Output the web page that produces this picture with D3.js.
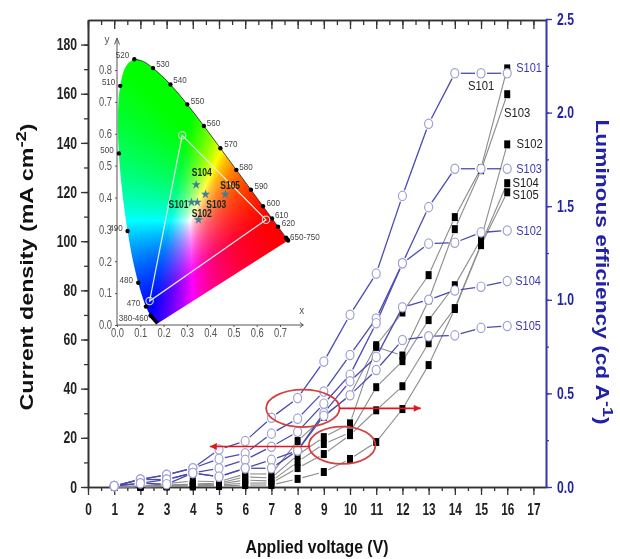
<!DOCTYPE html>
<html>
<head>
<meta charset="utf-8">
<script src="https://cdn.jsdelivr.net/npm/d3@7"></script>
<style>
  html, body { margin: 0; padding: 0; background: #fff; }
  #app { position: relative; width: 620px; height: 559px; overflow: hidden; }
  canvas { position: absolute; left: 0; top: 0; filter: blur(0.7px); }
  svg { position: absolute; left: 0; top: 0; filter: blur(0.35px); }
  text { font-family: "Liberation Sans", Arial, sans-serif; }
</style>
</head>
<body>
<div id="app"></div>
<script>
const voltage = [1, 2, 3, 4, 5, 6, 7, 8, 9, 10, 11, 12, 13, 14, 15, 16];
const seriesNames = ['S101', 'S103', 'S102', 'S104', 'S105'];

// current density, mA cm-2
const currentS101 = [0.2, 0.4, 1.4, 2.4, 2.2, 5.3, 5.3, 18.7, 28.5, 37.4, 57.7, 71, 86.2, 109.8, 129.7, 170.3];
const currentS103 = [0.1, 0.3, 0.8, 1.2, 1.6, 4.1, 3.7, 13, 20.3, 25.9, 57, 53.5, 76, 104.9, 128.9, 159.8];
const currentS102 = [0.1, 0.2, 0.6, 0.8, 1.2, 2.8, 2.4, 10.2, 17.5, 22.2, 40.6, 51.2, 67.9, 82.1, 100.8, 139.4];
const currentS104 = [0, 0.1, 0.4, 0.4, 0.8, 1.6, 1.6, 7.7, 13.4, 21.1, 31.2, 41, 58.5, 72.8, 98.8, 123.6];
const currentS105 = [0, 0, 0.2, 0.2, 0.4, 0.8, 0.8, 3.3, 6.1, 11.4, 18.3, 31.7, 49.6, 72.4, 98.4, 119.9];

// luminous efficiency, cd A-1
const effS101 = [0.005, 0.04, 0.065, 0.1, 0.2, 0.245, 0.37, 0.475, 0.67, 0.92, 1.14, 1.555, 1.94, 2.21, 2.21, 2.21];
const effS103 = [0.005, 0.04, 0.065, 0.1, 0.15, 0.18, 0.285, 0.365, 0.51, 0.705, 0.9, 1.195, 1.495, 1.7, 1.7, 1.7];
const effS102 = [0.005, 0.04, 0.04, 0.075, 0.1, 0.145, 0.215, 0.295, 0.445, 0.6, 0.875, 1.195, 1.3, 1.305, 1.36, 1.37];
const effS104 = [0.005, 0.02, 0.04, 0.075, 0.055, 0.1, 0.145, 0.195, 0.395, 0.565, 0.695, 0.96, 1, 1.05, 1.07, 1.1];
const effS105 = [0.005, 0.02, 0.015, 0.075, 0.055, 0.1, 0.1, 0.195, 0.38, 0.49, 0.625, 0.785, 0.805, 0.81, 0.85, 0.86];

const currentSeries = [currentS101, currentS103, currentS102, currentS104, currentS105];
const effSeries = [effS101, effS103, effS102, effS104, effS105];

// CIE 1931 spectral locus (nm, x, y)
const locusNm = [380, 460, 465, 470, 475, 480, 485, 490, 495, 500, 505, 510, 515, 520, 525, 530, 540, 550, 560, 570, 580, 590, 600, 610, 620, 650, 700];
const locusX = [0.1741, 0.144, 0.1355, 0.1241, 0.1096, 0.0913, 0.0687, 0.0454, 0.0235, 0.0082, 0.0039, 0.0139, 0.0389, 0.0743, 0.1142, 0.1547, 0.2296, 0.3016, 0.3731, 0.4441, 0.5125, 0.5752, 0.627, 0.6658, 0.6915, 0.7260, 0.7347];
const locusY = [0.005, 0.0297, 0.0399, 0.0578, 0.0868, 0.1327, 0.2007, 0.295, 0.4127, 0.5384, 0.6548, 0.7502, 0.812, 0.8338, 0.8262, 0.8059, 0.7543, 0.6923, 0.6245, 0.5547, 0.4866, 0.4242, 0.3725, 0.334, 0.3083, 0.274, 0.2653];
const locusDots = [460, 470, 480, 490, 500, 510, 520, 530, 540, 550, 560, 570, 580, 590, 600, 610, 620, 650, 700];

const gamutX = [0.28, 0.64, 0.14];
const gamutY = [0.595, 0.33, 0.075];

const starX = [0.34, 0.465, 0.38, 0.32, 0.345, 0.35];
const starY = [0.44, 0.41, 0.41, 0.385, 0.385, 0.33];

const nmLabels = ['520', '530', '540', '550', '560', '570', '580', '590', '600', '610', '620', '650-750', '510', '500', '490', '480', '470', '380-460'];
const nmLabelX = [0.024, 0.197, 0.271, 0.346, 0.414, 0.489, 0.554, 0.619, 0.671, 0.707, 0.736, 0.807, -0.036, -0.043, -0.004, 0.04, 0.071, 0.071];
const nmLabelY = [0.848, 0.818, 0.768, 0.702, 0.635, 0.567, 0.496, 0.436, 0.383, 0.345, 0.319, 0.275, 0.763, 0.549, 0.303, 0.141, 0.068, 0.021];

const width = 620;
const height = 559;
const app = d3.select('#app');
const canvas = app.append('canvas').attr('width', width).attr('height', height);
const svg = app.append('svg').attr('width', width).attr('height', height);

const x = d3.scaleLinear().domain([0, 17.48]).range([88, 546]);
const yL = d3.scaleLinear().domain([0, 190]).range([487, 20]);
const yR = d3.scaleLinear().domain([0, 2.5]).range([487, 19]);
const ix = d3.scaleLinear().domain([0, 0.7]).range([117, 280]);
const iy = d3.scaleLinear().domain([0, 0.8]).range([325, 70]);

const darkAxis = '#333';
const blueAxis = '#3535b5';
const blueText = '#2222a8';

// no narrow face is installed, so squeeze the glyphs instead
function squeeze(sel, factor) {
    sel.each(function () {
        const len = this.getComputedTextLength();
        d3.select(this).attr('textLength', len * factor).attr('lengthAdjust', 'spacingAndGlyphs');
    });
}

// ---- gamut fill, painted pixel by pixel from the xy scales
function xyToRgb(cx, cy) {
    const X = cx / cy, Z = (1 - cx - cy) / cy;
    let r = 3.2406 * X - 1.5372 - 0.4986 * Z;
    let g = -0.9689 * X + 1.8758 + 0.0415 * Z;
    let b = 0.0557 * X - 0.204 + 1.057 * Z;
    r = Math.max(r, 0); g = Math.max(g, 0); b = Math.max(b, 0);
    const m = Math.max(r, g, b);
    return [r, g, b].map(v => Math.round(255 * Math.pow(v / m, 1.0)));
}
const ctx = canvas.node().getContext('2d');
const off = document.createElement('canvas');
off.width = width; off.height = height;
const offCtx = off.getContext('2d');
const img = offCtx.createImageData(width, height);
for (let py = 30; py < 335; py++) {
    for (let px = 110; px < 300; px++) {
        const cy = iy.invert(py), cx = ix.invert(px);
        if (cy <= 0.001) continue;
        const c = xyToRgb(cx, cy), i = (py * width + px) * 4;
        img.data[i] = c[0]; img.data[i + 1] = c[1]; img.data[i + 2] = c[2]; img.data[i + 3] = 255;
    }
}
offCtx.putImageData(img, 0, 0);
const locusLine = d3.line().x(d => ix(d[0])).y(d => iy(d[1])).curve(d3.curveCatmullRom);
const locusPts = locusNm.map((n, i) => [locusX[i], locusY[i]]);
ctx.save();
ctx.beginPath();
locusLine.context(ctx)(locusPts);
ctx.closePath();
ctx.clip();
ctx.drawImage(off, 0, 0);
ctx.restore();
locusLine.context(null);

// ---- main axes
function styleAxis(g, color, width) {
    g.selectAll('path').attr('stroke', color).attr('stroke-width', width);
    g.selectAll('line').attr('stroke', color).attr('stroke-width', 1.3);
}
const halves = d3.range(0, 17.5, 0.5);
const xMinor = svg.append('g').attr('transform', `translate(0,${yL(0)})`)
    .call(d3.axisBottom(x).tickValues(halves).tickSize(4).tickFormat('').tickSizeOuter(0));
styleAxis(xMinor, darkAxis, 1.6);
const xMajor = svg.append('g').attr('transform', `translate(0,${yL(0)})`)
    .call(d3.axisBottom(x).tickValues(d3.range(0, 18)).tickSize(8).tickPadding(9).tickSizeOuter(0));
styleAxis(xMajor, darkAxis, 1.6);
xMajor.selectAll('text').attr('font-size', 16).attr('font-weight', 'bold').attr('fill', '#222').call(squeeze, 0.74);

const topMinor = svg.append('g').attr('transform', `translate(0,${yL.range()[1]})`)
    .call(d3.axisBottom(x).tickValues(halves).tickSize(5).tickFormat('').tickSizeOuter(0));
styleAxis(topMinor, darkAxis, 1.6);
const topMajor = svg.append('g').attr('transform', `translate(0,${yL.range()[1]})`)
    .call(d3.axisBottom(x).tickValues(d3.range(0, 18)).tickSize(9).tickFormat('').tickSizeOuter(0));
styleAxis(topMajor, darkAxis, 1.6);

const yMinor = svg.append('g').attr('transform', `translate(${x(0)},0)`)
    .call(d3.axisLeft(yL).tickValues(d3.range(0, 190, 10)).tickSize(4).tickFormat('').tickSizeOuter(0));
styleAxis(yMinor, darkAxis, 1.6);
const yMajor = svg.append('g').attr('transform', `translate(${x(0)},0)`)
    .call(d3.axisLeft(yL).tickValues(d3.range(0, 200, 20)).tickSize(7).tickPadding(4).tickSizeOuter(0));
styleAxis(yMajor, darkAxis, 1.6);
yMajor.selectAll('text').attr('font-size', 16).attr('font-weight', 'bold').attr('fill', '#222').call(squeeze, 0.76);

const rMinor = svg.append('g').attr('transform', `translate(${x(17.48)},0)`)
    .call(d3.axisRight(yR).tickValues(d3.range(0, 2.6, 0.25)).tickSize(3).tickFormat('').tickSizeOuter(0));
styleAxis(rMinor, blueAxis, 1.6);
const rMajor = svg.append('g').attr('transform', `translate(${x(17.48)},0)`)
    .call(d3.axisRight(yR).tickValues(d3.range(0, 2.6, 0.5)).tickSize(6).tickPadding(5).tickFormat(d3.format('.1f')).tickSizeOuter(0));
styleAxis(rMajor, blueAxis, 1.6);
rMajor.selectAll('text').attr('font-size', 16).attr('font-weight', 'bold').attr('fill', blueText).call(squeeze, 0.76);

// ---- axis titles
svg.append('text').attr('x', 317).attr('y', 553)
    .attr('text-anchor', 'middle').attr('font-size', 19).attr('font-weight', 'bold').attr('fill', '#111')
    .text('Applied voltage (V)')
    .call(squeeze, 0.83);

const leftTitle = svg.append('text').attr('transform', 'translate(33,267) rotate(-90)')
    .attr('text-anchor', 'middle').attr('font-size', 19).attr('font-weight', 'bold').attr('fill', '#111')
    .attr('textLength', 287).attr('lengthAdjust', 'spacingAndGlyphs');
leftTitle.append('tspan').text('Current density (mA cm');
leftTitle.append('tspan').attr('dy', -7).attr('font-size', 15).text('-2');
leftTitle.append('tspan').attr('dy', 7).text(')');

const rightTitle = svg.append('text').attr('transform', 'translate(596,272) rotate(90)')
    .attr('text-anchor', 'middle').attr('font-size', 19).attr('font-weight', 'bold').attr('fill', blueText)
    .attr('textLength', 305).attr('lengthAdjust', 'spacingAndGlyphs');
rightTitle.append('tspan').text('Luminous efficiency (cd A');
rightTitle.append('tspan').attr('dy', -7).attr('font-size', 15).text('-1');
rightTitle.append('tspan').attr('dy', 7).text(')');

// ---- connecting lines stop short of the symbols, the way Origin draws them
function gappedSegments(values, yScale, gap) {
    const pts = voltage.map((v, i) => [x(v), yScale(values[i])]);
    return d3.pairs(pts).map(([a, b]) => {
        const dx = b[0] - a[0], dy = b[1] - a[1], len = Math.hypot(dx, dy);
        const t = Math.min(gap / len, 0.5);
        return [a[0] + dx * t, a[1] + dy * t, b[0] - dx * t, b[1] - dy * t];
    });
}

const currentG = svg.append('g');
currentSeries.forEach(values => {
    currentG.selectAll(null).data(gappedSegments(values, yL, 5)).join('line')
        .attr('x1', d => d[0]).attr('y1', d => d[1]).attr('x2', d => d[2]).attr('y2', d => d[3])
        .attr('stroke', '#8c8c8c').attr('stroke-width', 1.1);
});
currentSeries.forEach(values => {
    currentG.selectAll(null).data(values.map((v, i) => [voltage[i], v])).join('rect')
        .attr('x', d => x(d[0]) - 3).attr('y', d => yL(d[1]) - 4)
        .attr('width', 6).attr('height', 8).attr('fill', '#000');
});

const effG = svg.append('g');
effSeries.forEach(values => {
    effG.selectAll(null).data(gappedSegments(values, yR, 6)).join('line')
        .attr('x1', d => d[0]).attr('y1', d => d[1]).attr('x2', d => d[2]).attr('y2', d => d[3])
        .attr('stroke', '#4a4ab2').attr('stroke-width', 1.3);
});
effSeries.forEach(values => {
    effG.selectAll(null).data(values.map((v, i) => [voltage[i], v])).join('ellipse')
        .attr('cx', d => x(d[0])).attr('cy', d => yR(d[1]))
        .attr('rx', 4).attr('ry', 4.7)
        .attr('fill', '#fff').attr('stroke', '#a0a0d4').attr('stroke-width', 1.2);
});

// ---- series labels at the ends of the curves
const blackLabelV = [15.0, 15.88, 16.35, 16.2, 16.2];
const blackLabelC = [163, 152, 139.5, 123.5, 119];
const blackAnchor = ['middle', 'start', 'start', 'start', 'start'];
svg.append('g').selectAll('text').data(seriesNames).join('text')
    .attr('x', (d, i) => x(blackLabelV[i]))
    .attr('y', (d, i) => yL(blackLabelC[i]) + 4)
    .attr('text-anchor', (d, i) => blackAnchor[i])
    .attr('font-size', 12.5).attr('fill', '#222')
    .text(d => d)
    .call(squeeze, 0.9);
svg.append('g').selectAll('text').data(seriesNames).join('text')
    .attr('x', (d, i) => x(16) + (i > 2 ? 8 : 9))
    .attr('y', (d, i) => yR(effSeries[i][15]) + (i === 0 ? -1 : 4))
    .attr('font-size', 12.5).attr('fill', '#3a3ab0')
    .text(d => d)
    .call(squeeze, 0.88);

// ---- red callouts
const ellipseV = [8.2, 9.7];
const ellipseC = [32, 17];
const ellipseRV = [1.4, 1.27];
const ellipseRC = [7.6, 7.6];
svg.append('g').selectAll('ellipse').data(ellipseV).join('ellipse')
    .attr('cx', d => x(d)).attr('cy', (d, i) => yL(ellipseC[i]))
    .attr('rx', (d, i) => x(ellipseRV[i]) - x(0)).attr('ry', (d, i) => yL(0) - yL(ellipseRC[i]))
    .attr('fill', 'none').attr('stroke', '#d2403f').attr('stroke-width', 1.8);

const arrowFrom = [9.6, 8.47];
const arrowTo = [12.7, 4.65];
const arrowC = [32, 16.5];
svg.append('defs').append('marker').attr('id', 'head').attr('viewBox', '0 0 10 10')
    .attr('refX', 10).attr('refY', 5).attr('markerUnits', 'userSpaceOnUse')
    .attr('markerWidth', 10).attr('markerHeight', 7).attr('orient', 'auto')
    .append('path').attr('d', 'M0,0L10,5L0,10Z').attr('fill', '#e8141c');
svg.append('g').selectAll('line').data(arrowFrom).join('line')
    .attr('x1', d => x(d)).attr('x2', (d, i) => x(arrowTo[i]))
    .attr('y1', (d, i) => yL(arrowC[i])).attr('y2', (d, i) => yL(arrowC[i]))
    .attr('stroke', '#e8141c').attr('stroke-width', 1.6).attr('marker-end', 'url(#head)');

// ---- inset chromaticity diagram
const inset = svg.append('g');
const inkGrey = '#555';
// only the upper right edge shows a dark outline
inset.append('path')
    .attr('d', d3.line().x(d => ix(d[0])).y(d => iy(d[1])).curve(d3.curveCatmullRom)(locusPts.slice(13)))
    .attr('fill', 'none').attr('stroke', '#1a2a1a').attr('stroke-width', 0.8);

inset.append('line').attr('x1', ix(0)).attr('x2', ix(0.8)).attr('y1', iy(0)).attr('y2', iy(0))
    .attr('stroke', inkGrey).attr('stroke-width', 1);
inset.append('line').attr('x1', ix(0)).attr('x2', ix(0)).attr('y1', iy(0)).attr('y2', iy(0.9))
    .attr('stroke', inkGrey).attr('stroke-width', 1);
inset.append('path').attr('d', d3.line()([[ix(0) - 2.5, iy(0.88)], [ix(0), iy(0.9)], [ix(0) + 2.5, iy(0.88)]]))
    .attr('fill', 'none').attr('stroke', inkGrey);
inset.append('path').attr('d', d3.line()([[ix(0.785), iy(0) - 2.5], [ix(0.8), iy(0)], [ix(0.785), iy(0) + 2.5]]))
    .attr('fill', 'none').attr('stroke', inkGrey);

const insetXAxis = inset.append('g').attr('transform', `translate(0,${iy(0)})`)
    .call(d3.axisBottom(ix).tickValues(d3.range(0, 0.75, 0.1)).tickSize(2).tickPadding(1).tickFormat(d3.format('.1f')));
insetXAxis.select('.domain').remove();
insetXAxis.selectAll('line').attr('stroke', inkGrey);
insetXAxis.selectAll('text').attr('font-size', 12).attr('fill', inkGrey).call(squeeze, 0.78);

const insetYAxis = inset.append('g').attr('transform', `translate(${ix(0)},0)`)
    .call(d3.axisLeft(iy).tickValues(d3.range(0, 0.85, 0.1)).tickSize(2).tickPadding(3).tickFormat(d3.format('.1f')));
insetYAxis.select('.domain').remove();
insetYAxis.selectAll('line').attr('stroke', inkGrey);
insetYAxis.selectAll('text').attr('font-size', 12).attr('fill', inkGrey).call(squeeze, 0.78);

inset.append('text').attr('x', ix(-0.043)).attr('y', iy(0.895)).attr('dy', '0.32em').attr('text-anchor', 'middle')
    .attr('font-size', 10).attr('fill', inkGrey).text('y');
inset.append('text').attr('x', ix(0.793)).attr('y', iy(0.045)).attr('dy', '0.32em').attr('text-anchor', 'middle')
    .attr('font-size', 10).attr('fill', inkGrey).text('x');

inset.selectAll('circle.nm').data(locusDots).join('circle').attr('class', 'nm')
    .attr('cx', d => ix(locusX[locusNm.indexOf(d)])).attr('cy', d => iy(locusY[locusNm.indexOf(d)]))
    .attr('r', 2.2).attr('fill', '#000');
inset.append('path')
    .attr('d', d3.line().x(d => ix(d[0])).y(d => iy(d[1]))(locusPts.slice(25)))
    .attr('stroke', '#000').attr('stroke-width', 4);
inset.append('path')
    .attr('d', d3.line().x(d => ix(d[0])).y(d => iy(d[1]))(locusPts.slice(0, 2)))
    .attr('stroke', '#000').attr('stroke-width', 3.5);

inset.selectAll('text.nm').data(nmLabels).join('text').attr('class', 'nm')
    .attr('x', (d, i) => ix(nmLabelX[i])).attr('y', (d, i) => iy(nmLabelY[i]))
    .attr('dy', '0.32em').attr('text-anchor', 'middle')
    .attr('font-size', 9.5).attr('fill', '#444').text(d => d)
    .call(squeeze, 0.85);

inset.append('path')
    .attr('d', d3.line().x((d, i) => ix(gamutX[i])).y((d, i) => iy(gamutY[i])).curve(d3.curveLinearClosed)(gamutX))
    .attr('fill', 'none').attr('stroke', '#e4efe4').attr('stroke-width', 1.2);
inset.selectAll('circle.gamut').data(gamutX).join('circle').attr('class', 'gamut')
    .attr('cx', d => ix(d)).attr('cy', (d, i) => iy(gamutY[i]))
    .attr('r', 3.7).attr('fill', 'none').attr('stroke', '#d8dcd0').attr('stroke-width', 1.1);

inset.selectAll('path.star').data(starX).join('path').attr('class', 'star')
    .attr('transform', (d, i) => `translate(${ix(d)},${iy(starY[i])})`)
    .attr('d', d3.symbol(d3.symbolStar, 26))
    .attr('fill', '#3f7f96');

const starLabels = ['S104', 'S105', 'S103', 'S101', 'S102'];
const starLabelX = [0.364, 0.486, 0.426, 0.264, 0.364];
const starLabelY = [0.478, 0.437, 0.378, 0.379, 0.35];
inset.selectAll('text.star').data(starLabels).join('text').attr('class', 'star')
    .attr('x', (d, i) => ix(starLabelX[i])).attr('y', (d, i) => iy(starLabelY[i]))
    .attr('dy', '0.32em').attr('text-anchor', 'middle')
    .attr('font-size', 11.5).attr('font-weight', 'bold').attr('fill', '#0c2a1c').text(d => d)
    .call(squeeze, 0.74);
</script>
</body>
</html>
